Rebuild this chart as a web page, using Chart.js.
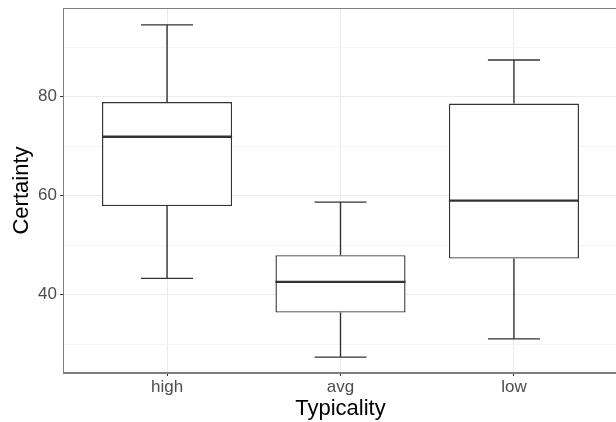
<!DOCTYPE html>
<html>
<head>
<meta charset="utf-8">
<script src="https://cdn.jsdelivr.net/npm/chart.js@4.4.1/dist/chart.umd.min.js"></script>
<style>
  html, body { margin: 0; padding: 0; background: #fff; overflow: hidden; }
  #wrap { width: 620px; height: 422px; position: relative; }
</style>
</head>
<body>
<div id="wrap"><canvas id="c"></canvas></div>
<script>
// ---- data ----
const categories = ['high', 'avg', 'low'];
const whiskerLow = [43.3, 27.4, 31.1];
const q1 = [57.9, 36.4, 47.3];
const median = [71.9, 42.6, 59.0];
const q3 = [78.9, 48.0, 78.6];
const whiskerHigh = [94.5, 58.7, 87.4];
const yTicks = [30, 40, 50, 60, 70, 80, 90];
const yLabelled = [40, 60, 80];

const FONT = "'Liberation Sans', Arial, Helvetica, sans-serif";

const boxExtras = {
  id: 'boxExtras',
  afterDatasetsDraw(chart) {
    const ctx = chart.ctx;
    const xs = chart.scales.x, ys = chart.scales.y;
    const meta = chart.getDatasetMeta(0);
    const spacing = Math.abs(xs.getPixelForValue(1) - xs.getPixelForValue(0));
    const capHalf = spacing * 0.15;
    ctx.save();
    ctx.strokeStyle = '#333333';
    ctx.lineCap = 'butt';
    categories.forEach((c, i) => {
      const x = xs.getPixelForValue(i);
      const bw = meta.data[i].width;
      ctx.lineWidth = 1.4;
      ctx.beginPath();
      ctx.moveTo(x, ys.getPixelForValue(q3[i]));
      ctx.lineTo(x, ys.getPixelForValue(whiskerHigh[i]));
      ctx.moveTo(x, ys.getPixelForValue(q1[i]));
      ctx.lineTo(x, ys.getPixelForValue(whiskerLow[i]));
      ctx.moveTo(x - capHalf, ys.getPixelForValue(whiskerHigh[i]));
      ctx.lineTo(x + capHalf, ys.getPixelForValue(whiskerHigh[i]));
      ctx.moveTo(x - capHalf, ys.getPixelForValue(whiskerLow[i]));
      ctx.lineTo(x + capHalf, ys.getPixelForValue(whiskerLow[i]));
      ctx.stroke();
      ctx.lineWidth = 2.4;
      ctx.beginPath();
      ctx.moveTo(x - bw / 2, ys.getPixelForValue(median[i]));
      ctx.lineTo(x + bw / 2, ys.getPixelForValue(median[i]));
      ctx.stroke();
    });
    const a = chart.chartArea;
    ctx.strokeStyle = '#7f7f7f';
    ctx.lineWidth = 1;
    ctx.strokeRect(a.left + 0.5, a.top + 0.5, a.right - a.left - 1, a.bottom - a.top - 1);
    ctx.restore();
  }
};

new Chart(document.getElementById('c'), {
  type: 'bar',
  data: {
    datasets: [{
      data: categories.map((c, i) => ({ x: i, y: [q1[i], q3[i]] })),
      backgroundColor: '#ffffff',
      borderColor: '#333333',
      borderWidth: 1.4,
      borderSkipped: false,
      barPercentage: 0.75,
      categoryPercentage: 1
    }]
  },
  options: {
    responsive: true,
    maintainAspectRatio: false,
    animation: false,
    events: [],
    layout: { padding: { top: 8, right: 2, left: 0, bottom: 0 } },
    plugins: { legend: { display: false }, tooltip: { enabled: false } },
    scales: {
      x: {
        type: 'linear',
        offset: false,
        min: -0.6,
        max: 2.6,
        afterBuildTicks: s => { s.ticks = categories.map((c, i) => ({ value: i })); },
        afterFit: s => { s.height = 49; s.paddingLeft = 0; s.paddingRight = 0; },
        ticks: {
          callback: v => categories[v],
          autoSkip: false,
          maxRotation: 0,
          font: { family: FONT, size: 17 },
          color: '#4D4D4D',
          padding: 1
        },
        grid: { offset: false, color: '#EBEBEB', lineWidth: 1, tickColor: '#333333', tickLength: 3, drawTicks: true },
        border: { display: true, color: '#7f7f7f', width: 1 },
        title: {
          display: true, text: 'Typicality',
          font: { family: FONT, size: 22, lineHeight: 1.2 },
          color: '#000000',
          padding: { top: 0, bottom: 0 }
        }
      },
      y: {
        min: 24.2,
        max: 97.9,
        afterBuildTicks: s => { s.ticks = yTicks.map(v => ({ value: v })); },
        afterFit: s => { s.width = 63; s.paddingTop = 0; s.paddingBottom = 0; },
        ticks: {
          callback: v => (yLabelled.includes(v) ? String(v) : ''),
          font: { family: FONT, size: 17 },
          color: '#4D4D4D',
          padding: 3
        },
        grid: {
          color: ctx => (yLabelled.includes(ctx.tick.value) ? '#EBEBEB' : '#F5F5F5'),
          lineWidth: 1,
          tickColor: ctx => (yLabelled.includes(ctx.tick.value) ? '#333333' : 'rgba(0,0,0,0)'),
          tickLength: 3
        },
        border: { display: true, color: '#7f7f7f', width: 1 },
        title: {
          display: true, text: 'Certainty',
          font: { family: FONT, size: 22, lineHeight: 1.2 },
          color: '#000000',
          padding: { top: 9, bottom: 0 }
        }
      }
    }
  },
  plugins: [boxExtras]
});
</script>
</body>
</html>
